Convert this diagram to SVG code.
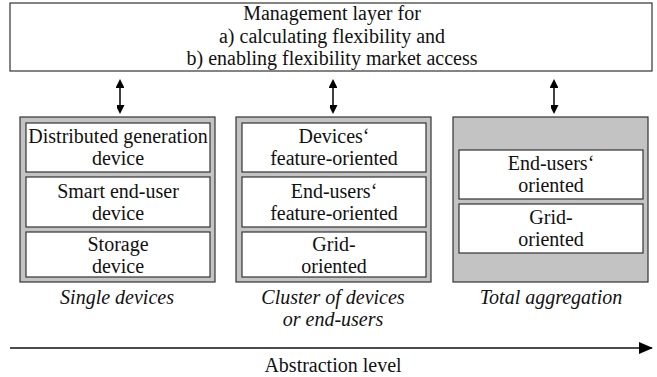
<svg xmlns="http://www.w3.org/2000/svg" width="657" height="377" viewBox="0 0 657 377">
<defs>
<marker id="ah" markerWidth="9" markerHeight="8" refX="7" refY="4.5" orient="auto-start-reverse" markerUnits="userSpaceOnUse"><path d="M0,0 L9,4.5 L0,9 z" fill="#000"/></marker>
<marker id="ah2" markerWidth="14" markerHeight="12" refX="13" refY="6" orient="auto" markerUnits="userSpaceOnUse"><path d="M0,0 L14,6 L0,12 z" fill="#000"/></marker>
</defs>
<style>
text{font-size:20px;fill:#111;text-anchor:middle}
.it{font-style:italic}
.box{fill:#fff;stroke:#333;stroke-width:1.2}
.panel{fill:#c3c3c3;stroke:#333;stroke-width:1.2}
.conn{stroke:#111;stroke-width:1.6;fill:none}
</style>
<rect width="657" height="377" fill="#fff"/>
<g font-family="'Liberation Serif', 'Times New Roman', 'DejaVu Serif', serif">
<g id="management">
<rect class="box" x="10" y="3" width="642" height="68"/>
<text x="332" y="20">Management layer for</text>
<text x="332" y="43">a) calculating flexibility and</text>
<text x="332" y="65">b) enabling flexibility market access</text>
</g>
<g id="connectors">
<line class="conn" x1="120" y1="81" x2="120" y2="112" marker-start="url(#ah)" marker-end="url(#ah)"/>
<line class="conn" x1="333" y1="81" x2="333" y2="112" marker-start="url(#ah)" marker-end="url(#ah)"/>
<line class="conn" x1="554" y1="81" x2="554" y2="112" marker-start="url(#ah)" marker-end="url(#ah)"/>
<line class="conn" x1="10" y1="348" x2="652" y2="348" marker-end="url(#ah2)"/>
</g>
<g id="single-devices">
<rect class="panel" x="20" y="117" width="195" height="165"/>
<rect class="box" x="26" y="123" width="184" height="49"/>
<text x="118" y="143">Distributed generation</text>
<text x="118" y="165">device</text>
<rect class="box" x="26" y="177" width="184" height="50"/>
<text x="118" y="198">Smart end-user</text>
<text x="118" y="220">device</text>
<rect class="box" x="26" y="232" width="184" height="45"/>
<text x="118" y="251">Storage</text>
<text x="118" y="273">device</text>
<text class="it" x="117" y="304">Single devices</text>
</g>
<g id="cluster">
<rect class="panel" x="236" y="117" width="195" height="165"/>
<rect class="box" x="242" y="123" width="184" height="49"/>
<text x="334" y="143">Devices‘</text>
<text x="334" y="165">feature-oriented</text>
<rect class="box" x="242" y="177" width="184" height="50"/>
<text x="334" y="198">End-users‘</text>
<text x="334" y="220">feature-oriented</text>
<rect class="box" x="242" y="232" width="184" height="45"/>
<text x="334" y="251">Grid-</text>
<text x="334" y="273">oriented</text>
<text class="it" x="333" y="304">Cluster of devices</text>
<text class="it" x="333" y="326">or end-users</text>
</g>
<g id="total-aggregation">
<rect class="panel" x="453" y="117" width="195" height="165"/>
<rect class="box" x="459" y="150" width="184" height="49"/>
<text x="551" y="170">End-users‘</text>
<text x="551" y="192">oriented</text>
<rect class="box" x="459" y="204" width="184" height="49"/>
<text x="551" y="224">Grid-</text>
<text x="551" y="246">oriented</text>
<text class="it" x="551" y="304">Total aggregation</text>
</g>
<text x="333" y="372">Abstraction level</text>
</g>
</svg>
